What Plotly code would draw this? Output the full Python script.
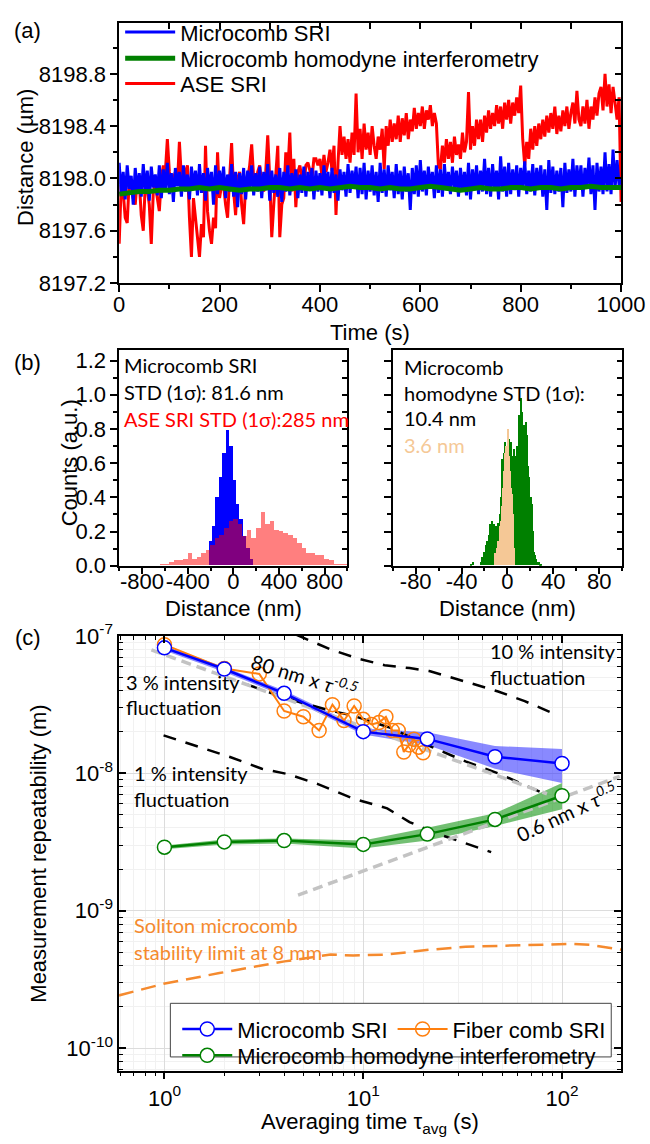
import plotly.graph_objects as go

W, H = 650, 1144
GW = 630  # plotting width (r margin 20)

def px(x):
    return x / GW

def py(y):
    return 1 - y / H

# ---------------- (a) time traces (um), sampled every 4 s / 20 s ----------------
red_um = [8197.50, 8197.95, 8197.90, 8197.70, 8197.66, 8197.98, 8197.95, 8197.85, 8197.80, 8198.00,
          8197.98, 8197.72, 8197.60, 8197.95, 8197.92, 8197.80, 8197.50, 8197.90, 8197.95, 8197.85,
          8197.75, 8198.00, 8198.10, 8198.05, 8198.30, 8198.05, 8197.90, 8198.00, 8198.05, 8197.95,
          8198.28, 8198.00, 8197.95, 8198.05, 8198.10, 8197.70, 8197.40, 8197.85, 8197.70, 8197.55,
          8197.40, 8197.65, 8197.55, 8198.25, 8197.75, 8197.60, 8197.50, 8197.70, 8197.62, 8198.20,
          8197.85, 8197.95, 8197.95, 8197.80, 8197.70, 8198.00, 8198.27, 8197.90, 8197.72, 8198.00,
          8198.05, 8197.80, 8197.65, 8197.95, 8198.00, 8198.10, 8198.26, 8198.00, 8197.95, 8198.05,
          8198.10, 8197.95, 8197.90, 8198.05, 8198.33, 8198.00, 8197.55, 8197.80, 8198.00, 8198.25,
          8197.55, 8197.80, 8197.85, 8198.20, 8198.05, 8198.35, 8197.90, 8198.15, 8197.78, 8198.05,
          8198.10, 8198.00, 8197.95, 8198.10, 8198.12, 8198.05, 8198.00, 8198.15, 8198.15, 8198.10,
          8198.15, 8198.02, 8198.18, 8198.05, 8198.12, 8198.22, 8198.06, 8198.25, 8197.72, 8198.12,
          8198.40, 8198.18, 8198.32, 8198.15, 8198.30, 8198.12, 8198.35, 8198.18, 8198.65, 8198.20,
          8198.38, 8198.15, 8198.42, 8198.22, 8198.35, 8198.18, 8198.40, 8198.25, 8198.15, 8198.32,
          8198.22, 8198.38, 8198.07, 8198.40, 8198.25, 8198.45, 8198.28, 8198.42, 8198.30, 8198.48,
          8198.28, 8198.46, 8198.33, 8198.50, 8198.30, 8198.45, 8198.36, 8198.54, 8198.38, 8198.50,
          8198.40, 8198.55, 8198.38, 8198.52, 8198.45, 8198.56, 8198.40, 8198.50, 8198.42, 8198.10,
          8198.07, 8198.25, 8198.12, 8198.30, 8198.15, 8198.28, 8198.12, 8198.32, 8198.18, 8198.26,
          8198.15, 8198.35, 8198.20, 8198.28, 8198.66, 8198.22, 8198.40, 8198.25, 8198.45, 8198.30,
          8198.45, 8198.28, 8198.48, 8198.35, 8198.52, 8198.38, 8198.50, 8198.40, 8198.56, 8198.42,
          8198.55, 8198.38, 8198.58, 8198.45, 8198.60, 8198.42, 8198.58, 8198.48, 8198.62, 8198.50,
          8198.71, 8198.30, 8198.10, 8198.28, 8198.15, 8198.38, 8198.22, 8198.40, 8198.25, 8198.42,
          8198.30, 8198.45, 8198.32, 8198.48, 8198.35, 8198.50, 8198.38, 8198.55, 8198.34, 8198.48,
          8198.36, 8198.52, 8198.40, 8198.55, 8198.38, 8198.50, 8198.58, 8198.42, 8198.67, 8198.45,
          8198.40, 8198.55, 8198.42, 8198.60, 8198.38, 8198.55, 8198.45, 8198.62, 8198.48, 8198.65,
          8198.70, 8198.52, 8198.80, 8198.55, 8198.72, 8198.50, 8198.70, 8198.58, 8198.45, 8198.62,
          8197.82]
blue_um = [8198.12, 8197.88, 8198.05, 8197.84, 8198.10, 8197.92, 8198.02, 8197.80, 8198.08, 8197.90,
           8198.04, 8197.86, 8198.11, 8197.90, 8198.06, 8197.83, 8198.09, 8197.93, 8198.03, 8197.87,
           8198.10, 8197.85, 8198.07, 8197.91, 8198.12, 8197.88, 8198.04, 8197.82, 8198.08, 8197.94,
           8198.05, 8197.86, 8198.10, 8197.90, 8198.03, 8197.84, 8198.09, 8197.92, 8198.06, 8197.87,
           8198.11, 8197.89, 8198.04, 8197.83, 8198.08, 8197.91, 8198.05, 8197.80, 8198.10, 8197.88,
           8198.06, 8197.92, 8198.09, 8197.85, 8198.03, 8197.90, 8198.11, 8197.86, 8198.05, 8197.78,
           8198.04, 8197.88, 8198.08, 8197.84, 8198.06, 8197.92, 8198.10, 8197.87, 8198.04, 8197.90,
           8198.09, 8197.85, 8198.05, 8197.91, 8198.11, 8197.83, 8198.06, 8197.89, 8198.03, 8197.86,
           8198.08, 8197.82, 8198.05, 8197.90, 8198.10, 8197.87, 8198.04, 8197.92, 8198.07, 8197.85,
           8198.03, 8197.89, 8198.09, 8197.86, 8198.05, 8197.91, 8198.08, 8197.84, 8198.06, 8197.90,
           8198.04, 8197.87, 8198.10, 8197.92, 8198.05, 8197.85, 8198.08, 8197.89, 8198.03, 8197.83,
           8198.07, 8197.91, 8198.05, 8197.86, 8198.11, 8197.89, 8198.06, 8197.92, 8198.09, 8197.85,
           8198.08, 8197.88, 8198.12, 8197.84, 8198.06, 8197.90, 8198.10, 8197.87, 8198.05, 8197.82,
           8198.12, 8197.89, 8198.07, 8197.86, 8198.10, 8197.91, 8198.05, 8197.85, 8198.11, 8197.88,
           8198.06, 8197.84, 8198.09, 8197.90, 8198.04, 8197.76, 8198.08, 8197.88, 8198.10, 8197.86,
           8198.14, 8197.90, 8198.06, 8197.87, 8198.09, 8197.92, 8198.05, 8197.85, 8198.10, 8197.89,
           8198.07, 8197.86, 8198.11, 8197.91, 8198.05, 8197.88, 8198.09, 8197.93, 8198.06, 8197.86,
           8198.08, 8197.90, 8198.05, 8197.87, 8198.12, 8197.84, 8198.07, 8197.91, 8198.10, 8197.88,
           8198.06, 8197.90, 8198.15, 8197.88, 8198.08, 8197.86, 8198.11, 8197.92, 8198.06, 8197.84,
           8198.17, 8197.90, 8198.09, 8197.86, 8198.12, 8197.88, 8198.07, 8197.91, 8198.10, 8197.86,
           8198.08, 8197.92, 8198.13, 8197.88, 8198.06, 8197.90, 8198.11, 8197.87, 8198.08, 8197.92,
           8198.10, 8197.86, 8198.07, 8197.76, 8198.14, 8197.89, 8198.09, 8197.88, 8198.06, 8197.90,
           8198.08, 8197.78, 8198.12, 8197.89, 8198.07, 8197.90, 8198.15, 8197.86, 8198.10, 8197.92,
           8198.10, 8197.86, 8198.08, 8197.92, 8198.16, 8197.88, 8198.10, 8197.76, 8198.12, 8197.90,
           8198.09, 8197.88, 8198.20, 8197.90, 8198.11, 8197.88, 8198.22, 8197.92, 8198.14, 8197.95,
           8198.00]
green_um = [8197.88, 8197.89, 8197.90, 8197.90, 8197.91, 8197.91, 8197.92, 8197.92, 8197.93, 8197.92,
            8197.93, 8197.92, 8197.91, 8197.92, 8197.92, 8197.93, 8197.93, 8197.92, 8197.93, 8197.92,
            8197.93, 8197.92, 8197.93, 8197.94, 8197.93, 8197.93, 8197.92, 8197.93, 8197.92, 8197.92,
            8197.93, 8197.94, 8197.93, 8197.92, 8197.91, 8197.92, 8197.93, 8197.92, 8197.92, 8197.93,
            8197.93, 8197.92, 8197.93, 8197.93, 8197.92, 8197.93, 8197.93, 8197.94, 8197.93, 8197.93,
            8197.93]
t_red = [4 * i for i in range(len(red_um))]
t_blue = [4 * i for i in range(len(blue_um))]
t_green = [20 * i for i in range(len(green_um))]

# ---------------- (b) histograms ----------------
hist_blue_nm = [-200, -170, -140, -110, -80, -50, -20, 10, 40, 70, 100, 130, 160]
hist_blue = [0.14, 0.23, 0.40, 0.52, 0.66, 0.79, 0.70, 0.50, 0.36, 0.27, 0.17, 0.10, 0.04]
hist_red_nm = [-620, -580, -540, -500, -460, -420, -380, -340, -300, -260, -220, -180, -140, -100,
               -60, -20, 20, 60, 100, 140, 180, 220, 260, 300, 340, 380, 420, 460, 500, 540,
               580, 620, 660, 700, 740, 780, 820, 860, 900, 940, 980]
hist_red = [0.01, 0.01, 0.02, 0.03, 0.03, 0.04, 0.07, 0.04, 0.05, 0.07, 0.09, 0.12, 0.16, 0.18,
            0.22, 0.26, 0.27, 0.24, 0.17, 0.21, 0.16, 0.22, 0.31, 0.24, 0.26, 0.21, 0.20, 0.19, 0.18, 0.16,
            0.13, 0.10, 0.07, 0.07, 0.06, 0.06, 0.04, 0.03, 0.01, 0.01, 0.01]
hist_green_nm = list(range(-32, 30))
hist_green = [0.01, 0.0, 0.02, 0.0, 0.0, 0.0, 0.0, 0.0, 0.0, 0.02, 0.05, 0.08, 0.06, 0.12, 0.14,
              0.10, 0.18, 0.24, 0.26, 0.20, 0.24, 0.22, 0.23, 0.18, 0.25, 0.30, 0.40, 0.62, 0.55,
              0.66, 0.72, 0.70, 0.78, 0.74, 0.70, 0.72, 0.64, 0.60, 0.68, 0.64, 0.70, 0.66, 0.88,
              0.80, 0.98, 0.90, 0.82, 0.70, 0.84, 0.76, 0.58, 0.52, 0.40, 0.36, 0.20, 0.08, 0.06,
              0.04, 0.02, 0.02, 0.01, 0.01]
hist_tan_nm = list(range(-11, 7))
hist_tan = [0.07, 0.07, 0.10, 0.14, 0.23, 0.26, 0.35, 0.45, 0.55, 0.66, 0.70, 0.80, 0.64, 0.55,
            0.45, 0.42, 0.30, 0.10]

# ---------------- (c) repeatability ----------------
tau_sri = [1, 2, 4, 10, 21, 46, 100]
sri = [8.18e-8, 5.74e-8, 3.82e-8, 2.01e-8, 1.78e-8, 1.32e-8, 1.18e-8]
sri_hi = [8.49e-8, 5.93e-8, 4.01e-8, 2.12e-8, 1.99e-8, 1.58e-8, 1.50e-8]
sri_lo = [7.83e-8, 5.47e-8, 3.63e-8, 1.92e-8, 1.61e-8, 1.08e-8, 8.5e-9]
hom = [2.90e-9, 3.17e-9, 3.24e-9, 3.04e-9, 3.61e-9, 4.62e-9, 6.87e-9]
hom_hi = [2.98e-9, 3.30e-9, 3.35e-9, 3.24e-9, 4.01e-9, 5.12e-9, 8.49e-9]
hom_lo = [2.80e-9, 3.03e-9, 3.08e-9, 2.84e-9, 3.24e-9, 4.14e-9, 5.47e-9]
tau_fiber = list(range(1, 21))
fiber = [8.63e-8, 5.78e-8, 5.29e-8, 2.84e-8, 2.58e-8, 2.05e-8, 3.16e-8, 2.42e-8, 3.09e-8, 2.47e-8,
         2.27e-8, 2.34e-8, 2.58e-8, 2.05e-8, 2.05e-8, 1.43e-8, 1.61e-8, 1.77e-8, 1.55e-8, 1.41e-8]
int10_tau = [4.6, 4.88, 6.87, 9.67, 12.8, 17.1, 21.5, 33.9, 47.7, 64.9, 89.2]
int10 = [1.02e-7, 9.84e-8, 7.96e-8, 6.76e-8, 6.12e-8, 5.83e-8, 5.55e-8, 4.57e-8, 3.94e-8, 3.35e-8, 2.75e-8]
int3_tau = [2.61, 4.11, 6.63, 8.92, 13.6, 22.2, 32.7, 47.7, 81.5]
int3 = [4.42e-8, 3.51e-8, 2.89e-8, 2.62e-8, 2.15e-8, 1.55e-8, 1.22e-8, 1.0e-8, 7.1e-9]
int1_tau = [0.99, 1.51, 2.12, 3.09, 4.21, 5.92, 8.92, 13.2, 17.1, 22.2, 44.0]
int1 = [1.89e-8, 1.55e-8, 1.32e-8, 1.08e-8, 9.84e-9, 8.35e-9, 6.54e-9, 5.56e-9, 4.42e-9, 3.75e-9, 2.67e-9]
fit80_tau = [0.86, 84]
fit80 = [7.9e-8, 7.1e-9]
fit06_tau = [4.7, 195]
fit06 = [1.3e-9, 9.5e-9]
soliton_tau = [0.59, 0.99, 1.89, 4.02, 6.86, 8.92, 13.1, 21.5, 32.7, 51.6, 87.2, 115, 138, 181, 200]
soliton = [2.42e-10, 2.94e-10, 3.52e-10, 4.28e-10, 4.80e-10, 4.72e-10, 4.80e-10, 5.20e-10,
           5.47e-10, 5.56e-10, 5.65e-10, 5.74e-10, 5.65e-10, 5.29e-10, 5.2e-10]

BLUE, GREEN, RED, ORANGE = '#0000ff', '#008000', '#ff0000', '#ff7f0e'
ARIAL = 'Liberation Sans, Arial'
CALI = 'Lato, Open Sans'
CS = 20  # annotation text size

fig = go.Figure()

# (a)
fig.add_trace(go.Scatter(x=t_red, y=red_um, mode='lines', line=dict(color=RED, width=3),
                         name='ASE SRI', legend='legend5', xaxis='x', yaxis='y'))
fig.add_trace(go.Scatter(x=t_blue, y=blue_um, mode='lines', line=dict(color=BLUE, width=3),
                         name='Microcomb SRI', legend='legend', xaxis='x', yaxis='y'))
fig.add_trace(go.Scatter(x=t_green, y=green_um, mode='lines', line=dict(color=GREEN, width=5),
                         name='Microcomb homodyne interferometry', legend='legend4',
                         xaxis='x', yaxis='y'))

# (b) left
fig.add_trace(go.Bar(x=hist_blue_nm, y=hist_blue, width=30, marker=dict(color=BLUE, line=dict(width=0)),
                     showlegend=False, xaxis='x2', yaxis='y2'))
fig.add_trace(go.Bar(x=hist_red_nm, y=hist_red, width=40,
                     marker=dict(color='rgba(255,0,0,0.5)', line=dict(width=0)),
                     showlegend=False, xaxis='x2', yaxis='y2'))
# (b) right
fig.add_trace(go.Bar(x=hist_green_nm, y=hist_green, width=1.0, marker=dict(color=GREEN, line=dict(width=0)),
                     showlegend=False, xaxis='x3', yaxis='y3'))
fig.add_trace(go.Bar(x=hist_tan_nm, y=hist_tan, width=1.0, marker=dict(color='#f5c896', line=dict(width=0)),
                     showlegend=False, xaxis='x3', yaxis='y3'))

# (c) bands
fig.add_trace(go.Scatter(x=tau_sri + tau_sri[::-1], y=sri_hi + sri_lo[::-1], fill='toself',
                         fillcolor='rgba(40,40,255,0.55)', line=dict(width=0), mode='lines',
                         showlegend=False, hoverinfo='skip', xaxis='x4', yaxis='y4'))
fig.add_trace(go.Scatter(x=tau_sri + tau_sri[::-1], y=hom_hi + hom_lo[::-1], fill='toself',
                         fillcolor='rgba(0,140,0,0.55)', line=dict(width=0), mode='lines',
                         showlegend=False, hoverinfo='skip', xaxis='x4', yaxis='y4'))
for xs, ys in [(int10_tau, int10), (int3_tau, int3), (int1_tau, int1)]:
    fig.add_trace(go.Scatter(x=xs, y=ys, mode='lines', line=dict(color='black', width=2.5, dash='13px,10px'),
                             showlegend=False, xaxis='x4', yaxis='y4'))
for xs, ys in [(fit80_tau, fit80), (fit06_tau, fit06)]:
    fig.add_trace(go.Scatter(x=xs, y=ys, mode='lines', line=dict(color='#c3c3c3', width=3.5, dash='10px,6px'),
                             showlegend=False, xaxis='x4', yaxis='y4'))
fig.add_trace(go.Scatter(x=soliton_tau, y=soliton, mode='lines',
                         line=dict(color='#f58a2e', width=2.5, dash='15px,8px'),
                         showlegend=False, xaxis='x4', yaxis='y4'))
fig.add_trace(go.Scatter(x=tau_fiber, y=fiber, mode='lines+markers', name='Fiber comb SRI',
                         line=dict(color=ORANGE, width=2),
                         marker=dict(symbol='circle-open', size=14, color=ORANGE, line=dict(width=1.5)),
                         legend='legend2', legendrank=2, xaxis='x4', yaxis='y4'))
fig.add_trace(go.Scatter(x=tau_sri, y=sri, mode='lines+markers', name='Microcomb SRI',
                         line=dict(color=BLUE, width=2.5),
                         marker=dict(symbol='circle', size=14, color='white', line=dict(color=BLUE, width=1.5)),
                         legend='legend2', legendrank=1, xaxis='x4', yaxis='y4'))
fig.add_trace(go.Scatter(x=tau_sri, y=hom, mode='lines+markers', name='Microcomb homodyne interferometry',
                         line=dict(color=GREEN, width=2.5),
                         marker=dict(symbol='circle', size=14, color='white', line=dict(color=GREEN, width=1.5)),
                         legend='legend3', xaxis='x4', yaxis='y4'))

# empty traces so the mirrored (inward-tick) overlay axes get drawn
for xa, ya in [('x5', 'y5'), ('x2', 'y6'), ('x3', 'y7'), ('x8', 'y4')]:
    fig.add_trace(go.Scatter(x=[], y=[], mode='lines', showlegend=False, hoverinfo='skip', xaxis=xa, yaxis=ya))

axfont = dict(family=ARIAL, size=22, color='black')
base = dict(showline=True, linecolor='black', linewidth=1.5, mirror=True, ticks='outside', ticklen=7,
            tickwidth=1.5, tickcolor='black', tickfont=axfont, showgrid=False, zeroline=False)
ov = dict(showline=False, showgrid=False, zeroline=False, showticklabels=False, ticks='inside',
          ticklen=7, tickwidth=1.5, tickcolor='black')

def mn(**kw):
    d = dict(ticklen=4, tickwidth=1.5, tickcolor='black')
    d.update(kw)
    return d

logminor_x = [k * 10 ** e for e in range(-1, 3) for k in range(2, 10)]
logminor_y = [k * 10 ** e for e in range(-11, -7) for k in range(2, 10)]
xa_dom = [px(115), px(625)]
ya_dom = [py(274), py(7)]
yb_dom = [py(564), py(343)]
yc_dom = [py(1082), py(636)]
YR_A = [8197.2, 8199.19]
XR_C = [-0.2277, 2.297]

fig.update_layout(
    width=W, height=H, margin=dict(l=0, r=W - GW, t=0, b=0),
    paper_bgcolor='white', plot_bgcolor='rgba(0,0,0,0)', barmode='overlay', bargap=0,
    font=dict(family=ARIAL, size=22, color='black'),
    xaxis=dict(base, domain=xa_dom, anchor='y', range=[0, 1000], dtick=200, tick0=0, ticklabelstandoff=-6,
               minor=mn(dtick=100, tick0=0, ticks='outside')),
    yaxis=dict(base, domain=ya_dom, anchor='x', range=YR_A, dtick=0.4, tick0=8197.2, tickformat='.1f',
               minor=mn(dtick=0.2, tick0=8197.2, ticks='outside')),
    xaxis5=dict(ov, overlaying='x', side='top', anchor='y5', range=[0, 1000], dtick=100, tick0=0, ticklen=6),
    yaxis5=dict(ov, overlaying='y', side='right', anchor='x5', range=YR_A, dtick=0.2, tick0=8197.2, ticklen=6),
    xaxis2=dict(base, domain=[px(115), px(347)], anchor='y2', range=[-1000, 1000], tickangle=0,
                ticklabelstandoff=-12,
                tickmode='array', tickvals=[-800, -400, 0, 400, 800], ticktext=['-800', '-400', '0', '400', '800'],
                minor=mn(tickmode='array', tickvals=[-1000, -600, -200, 200, 600, 1000], ticks='outside')),
    yaxis2=dict(base, domain=yb_dom, anchor='x2', range=[0, 1.26], dtick=0.2, tick0=0, tickformat='.1f',
                minor=mn(dtick=0.1, tick0=0, ticks='outside')),
    yaxis6=dict(ov, overlaying='y2', side='right', anchor='x2', range=[0, 1.26], dtick=0.1, tick0=0, ticklen=5),
    xaxis3=dict(base, domain=[px(393), px(626)], anchor='y3', range=[-100, 100], tickangle=0,
                ticklabelstandoff=-12,
                tickmode='array', tickvals=[-80, -40, 0, 40, 80], ticktext=['-80', '-40', '0', '40', '80'],
                minor=mn(tickmode='array', tickvals=[-100, -60, -20, 20, 60, 100], ticks='outside')),
    yaxis3=dict(base, domain=yb_dom, anchor='x3', range=[0, 1.26], dtick=0.2, tick0=0, showticklabels=False,
                minor=mn(dtick=0.1, tick0=0, ticks='outside')),
    yaxis7=dict(ov, overlaying='y3', side='right', anchor='x3', range=[0, 1.26], dtick=0.1, tick0=0, ticklen=5),
    xaxis4=dict(base, type='log', domain=xa_dom, anchor='y4', range=XR_C,
                tickmode='array', tickvals=[1, 10, 100],
                ticktext=['10<sup>0</sup>', '10<sup>1</sup>', '10<sup>2</sup>'],
                showgrid=True, gridcolor='#dcdcdc', gridwidth=1,
                minor=mn(tickmode='array', tickvals=logminor_x, ticks='outside', tickwidth=1.2,
                         showgrid=True, gridcolor='#f1f1f1', gridwidth=1)),
    xaxis8=dict(ov, type='log', overlaying='x4', side='top', anchor='y4', range=XR_C,
                tickmode='array', tickvals=[1, 10, 100],
                minor=mn(tickmode='array', tickvals=logminor_x, ticks='inside', tickwidth=1.2)),
    yaxis4=dict(base, type='log', domain=yc_dom, anchor='x4', range=[-10.163, -7],
                ticks='inside', mirror='ticks',
                tickmode='array', tickvals=[1e-10, 1e-9, 1e-8, 1e-7],
                ticktext=['10<sup>-10</sup>', '10<sup>-9</sup>', '10<sup>-8</sup>', '10<sup>-7</sup>'],
                showgrid=True, gridcolor='#dcdcdc', gridwidth=1,
                minor=mn(tickmode='array', tickvals=logminor_y, ticks='inside', tickwidth=1.2,
                         showgrid=True, gridcolor='#f1f1f1', gridwidth=1)),
    legend=dict(x=px(116), y=py(-5), xanchor='left', yanchor='top', orientation='h', bgcolor='rgba(0,0,0,0)',
                font=dict(family=ARIAL, size=22), itemwidth=50),
    legend4=dict(x=px(116), y=py(22), xanchor='left', yanchor='top', orientation='h', bgcolor='rgba(0,0,0,0)',
                 font=dict(family=ARIAL, size=22), itemwidth=50),
    legend5=dict(x=px(116), y=py(48), xanchor='left', yanchor='top', orientation='h', bgcolor='rgba(0,0,0,0)',
                 font=dict(family=ARIAL, size=22), itemwidth=50),
    legend2=dict(x=px(174), y=py(1018), xanchor='left', yanchor='top', orientation='h',
                 bgcolor='rgba(0,0,0,0)', font=dict(family=ARIAL, size=22), itemwidth=50),
    legend3=dict(x=px(174), y=py(1045), xanchor='left', yanchor='top', orientation='h',
                 bgcolor='rgba(0,0,0,0)', font=dict(family=ARIAL, size=22), itemwidth=50),
    shapes=[dict(type='rect', xref='paper', yref='paper', x0=px(167), x1=px(615), y0=py(1068), y1=py(1013),
                 line=dict(color='#444', width=1), fillcolor='white', layer='above')],
)

ann = []

def txt(s, x, y, size=CS, family=CALI, color='black', xanchor='left', angle=0):
    ann.append(dict(text=s, x=px(x), y=py(y), xref='paper', yref='paper', showarrow=False,
                    xanchor=xanchor, yanchor='middle', textangle=angle,
                    font=dict(family=family, size=size, color=color)))

# panel labels
txt('(a)', 22, 15, size=22, family=ARIAL, xanchor='center')
txt('(b)', 22, 355, size=22, family=ARIAL, xanchor='center')
txt('(c)', 22, 638, size=22, family=ARIAL, xanchor='center')
# axis titles
txt('Distance (\u00b5m)', 20, 145, size=22, family=ARIAL, xanchor='center', angle=-90)
txt('Time (s)', 370, 325, size=22, family=ARIAL, xanchor='center')
txt('Counts (a.u.)', 64, 458, size=22, family=ARIAL, xanchor='center', angle=-90)
txt('Distance (nm)', 231, 608, size=22, family=ARIAL, xanchor='center')
txt('Distance (nm)', 510, 608, size=22, family=ARIAL, xanchor='center')
txt('Measurement repeatability (m)', 33, 859, size=22, family=ARIAL, xanchor='center', angle=-90)
txt('Averaging time \u03c4<sub>avg</sub> (s)', 370, 1136, size=22, family=ARIAL, xanchor='center')
# (b) texts
txt('Microcomb SRI', 118, 358)
txt('STD (1\u03c3): 81.6 nm', 118, 386)
txt('ASE SRI STD (1\u03c3):285 nm', 118, 413, color='#ff0000')
txt('Microcomb', 402, 360)
txt('homodyne STD (1\u03c3):', 402, 387)
txt('10.4 nm', 402, 412)
txt('3.6 nm', 402, 440, color='#f5c896')
# (c) texts
txt('3 % intensity', 120, 683)
txt('fluctuation', 120, 709)
txt('1 % intensity', 128, 777)
txt('fluctuation', 128, 803)
txt('10 % intensity', 490, 652)
txt('fluctuation', 490, 678)
txt('Soliton microcomb', 128, 933, color='#f58a2e')
txt('stability limit at 8 mm', 128, 960, color='#f58a2e')
txt('80 nm x <i>\u03c4</i><sup><i>-0.5</i></sup>', 303, 676, xanchor='center', angle=17)
txt('0.6 nm x <i>\u03c4</i><sup><i>0.5</i></sup>', 570, 816, xanchor='center', angle=-25)

fig.update_layout(annotations=ann)
fig.write_html('out.html')
